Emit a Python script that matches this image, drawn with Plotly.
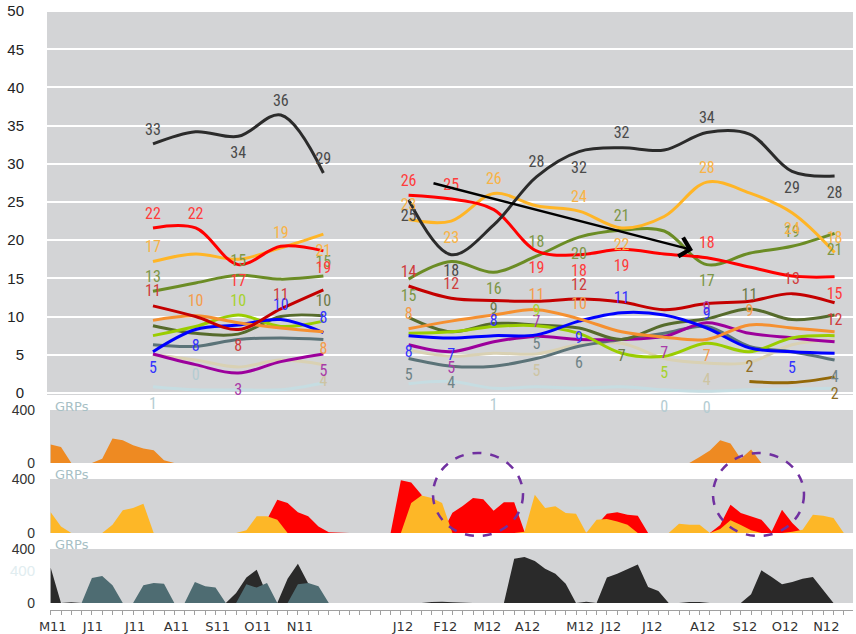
import plotly.graph_objects as go

W, H = 856, 634

# ---------------------------------------------------------------------------
# Weekly timeline (week 0 = first week of May 2011) and monthly tracking waves
# ---------------------------------------------------------------------------
N_WEEKS = 79
FIRST_WAVE_WEEK = 9.93      # week position of the first tracking wave
WEEKS_PER_WAVE = 4.136      # spacing between two tracking waves
waves = list(range(17))     # wave 5 (December) was not fielded

tick_weeks = [0.2, 4.1, 8.2, 12.2, 16.2, 20.1, 24.2, 34.2, 38.3, 42.4, 46.3,
              51.4, 54.4, 58.4, 63.3, 67.4, 71.3, 75.3]
tick_text = ["M11", "J11", "J11", "A11", "S11", "O11", "N11", "J12", "F12",
             "M12", "A12", "M12", "J12", "J12", "A12", "S12", "O12", "N12"]


def wave_series(first_year, second_year):
    return first_year + [None] + second_year


# tracking scores per brand (%)
black_vals = wave_series([32.6, 34.2, 33.6, 36.4, 28.8],
                         [25.3, 18.1, 22.0, 28.3, 31.6, 32.1, 31.8, 34.1, 33.9, 29.0, 28.4])
red_vals = wave_series([21.6, 21.6, 16.8, 19.2, 18.6],
                       [25.9, 25.4, 24.0, 18.6, 18.1, 18.8, 18.2, 17.7, 16.5, 15.3, 15.2])
yellow_vals = wave_series([17.2, 18.2, 17.5, 19.0, 20.8],
                          [22.7, 22.5, 26.1, 24.5, 23.8, 21.6, 23.1, 27.6, 26.2, 23.6, 18.4])
olive_vals = wave_series([13.3, 14.4, 15.4, 14.9, 15.3],
                         [14.9, 17.2, 15.8, 17.9, 20.4, 21.3, 21.2, 16.8, 18.3, 19.2, 20.9])
darkred_vals = wave_series([11.4, 10.0, 8.3, 11.0, 13.5],
                           [14.0, 12.4, 12.1, 12.0, 12.3, 11.9, 10.9, 11.7, 12.0, 13.0, 11.8])
orange_vals = wave_series([9.5, 10.1, 9.2, 8.5, 8.0],
                          [8.4, 9.4, 10.2, 10.9, 9.7, 8.0, 7.3, 7.0, 8.9, 8.5, 8.0])
blue_vals = wave_series([5.4, 8.3, 8.9, 9.6, 7.9],
                        [7.5, 7.2, 7.5, 7.6, 9.4, 10.5, 10.2, 8.5, 5.9, 5.4, 5.2])
lime_vals = wave_series([7.5, 8.7, 10.2, 8.7, 9.4],
                        [7.8, 8.0, 8.7, 8.8, 7.8, 5.2, 4.8, 6.5, 5.4, 7.2, 7.5])
darkolive_vals = wave_series([8.8, 7.8, 7.7, 10.0, 10.1],
                             [9.9, 8.0, 9.1, 8.9, 8.5, 7.0, 8.9, 9.7, 11.0, 9.6, 10.2])
purple_vals = wave_series([5.1, 3.7, 2.6, 4.1, 5.1],
                          [6.3, 5.4, 6.7, 7.4, 7.0, 7.0, 7.4, 9.2, 7.8, 7.2, 6.7])
slate_vals = wave_series([6.3, 6.1, 7.0, 7.2, 7.0],
                         [4.5, 3.5, 3.5, 4.5, 6.1, 7.0, 7.8, 8.7, 6.1, 5.4, 4.3])
beige_vals = wave_series([5.0, 4.3, 3.4, 4.3, 3.7],
                         [5.6, 4.8, 5.2, 5.1, 6.3, 6.5, 4.5, 3.9, 4.0, 6.3, 7.0])
lightblue_vals = wave_series([0.8, 0.4, 0.4, 0.4, 1.3],
                             [1.2, 1.5, 0.6, 0.8, 0.6, 0.8, 0.4, 0.2, 0.4, 0.5, 0.6])
brown_vals = [None] * 14 + [1.5, 1.35, 2.1]

# weekly GRPs per campaign (weeks 0..78)
orange_grp = [139, 121, 0, 0, 0, 33, 185, 172, 134, 109,
              96, 20, 0, 0, 0, 0, 0, 0, 0, 0,
              0, 0, 0, 0, 0, 0, 0, 0, 0, 0,
              0, 0, 0, 0, 0, 0, 0, 0, 0, 0,
              0, 0, 0, 0, 0, 0, 0, 0, 0, 0,
              0, 0, 0, 0, 0, 0, 0, 0, 0, 0,
              0, 0, 0, 45, 95, 172, 147, 33, 101, 0,
              0, 0, 0, 0, 0, 0, 0, 0, 0]
red_grp = [0, 0, 0, 0, 0, 0, 0, 0, 0, 0,
           0, 0, 0, 0, 0, 0, 0, 0, 0, 0,
           0, 100, 247, 222, 153, 124, 49, 5, 0, 0,
           0, 0, 0, 0, 390, 375, 284, 0, 0, 150,
           200, 260, 250, 165, 227, 227, 10, 0, 0, 0,
           0, 0, 0, 60, 143, 153, 136, 128, 0, 0,
           0, 0, 0, 0, 0, 60, 210, 148, 124, 99,
           12, 173, 74, 0, 0, 0, 0, 0, 0]
yellow_grp = [153, 49, 0, 0, 0, 0, 62, 168, 185, 217,
              0, 0, 0, 0, 0, 0, 0, 0, 0, 20,
              124, 124, 99, 0, 0, 0, 0, 0, 0, 0,
              0, 0, 0, 0, 0, 222, 277, 259, 222, 0,
              0, 0, 0, 0, 0, 0, 10, 284, 185, 198,
              148, 143, 0, 99, 104, 86, 62, 0, 0, 0,
              0, 69, 62, 62, 0, 30, 94, 60, 20, 0,
              0, 0, 10, 25, 136, 128, 111, 0, 0]
black_grp = [262, 0, 6, 0, 0, 0, 0, 0, 0, 0,
             0, 0, 0, 0, 0, 0, 0, 0, 74, 188,
             247, 60, 0, 180, 291, 140, 0, 0, 0, 0,
             0, 0, 0, 0, 0, 0, 0, 8, 10, 5,
             0, 0, 0, 0, 0, 328, 341, 311, 254, 217,
             143, 0, 10, 0, 188, 217, 249, 286, 119, 89,
             0, 0, 8, 8, 0, 0, 0, 0, 64, 242,
             193, 138, 156, 180, 193, 94, 0, 0, 0]
slate_grp = [0, 0, 0, 0, 185, 200, 131, 0, 0, 131,
             148, 143, 0, 0, 156, 124, 114, 0, 0, 138,
             114, 148, 0, 0, 138, 148, 124, 0, 0, 0,
             0, 0, 0, 0, 0, 0, 0, 0, 0, 0,
             0, 0, 0, 0, 0, 0, 0, 0, 0, 0,
             0, 0, 0, 0, 0, 0, 0, 0, 0, 0,
             0, 0, 0, 0, 0, 0, 0, 0, 0, 0,
             0, 0, 0, 0, 0, 0, 0, 0, 0]

weeks = list(range(N_WEEKS))
wave_weeks = [FIRST_WAVE_WEEK + WEEKS_PER_WAVE * k for k in waves]

# brand lines: values, line colour, label colour, waves labelled above / below
brands = [
    (lightblue_vals, "#c6dde2", "#b4ccd2", [1], [0, 8, 12, 13]),
    (beige_vals, "#d9d1b3", "#cdc4a3", [], [4, 9, 13]),
    (slate_vals, "#5b7378", "#6f8387", [9], [6, 7, 10, 16]),
    (purple_vals, "#9c009c", "#a83aa8", [9, 13], [2, 4, 7, 12]),
    (darkolive_vals, "#566b2c", "#6c7a48", [4, 8, 14], [11]),
    (lime_vals, "#9acd00", "#a6d22e", [2, 9], [12]),
    (blue_vals, "#0000ff", "#3333ff", [3, 4, 8, 11, 13], [0, 1, 6, 7, 10, 15]),
    (orange_vals, "#f59030", "#f59c4a", [1, 6, 9, 10, 14], [4, 13]),
    (darkred_vals, "#c40000", "#cf3b3b", [0, 3, 6, 7, 10, 15], [2, 16]),
    (olive_vals, "#6b8c25", "#7d9747", [0, 2, 4, 9, 11, 15], [6, 8, 10, 13, 16]),
    (yellow_vals, "#ffb526", "#f8b347", [0, 3, 6, 8, 10, 13, 16], [4, 7, 11, 15]),
    (red_vals, "#ff0000", "#ff3c3c", [0, 1, 6, 7, 13], [2, 4, 9, 10, 11, 16]),
    (black_vals, "#2b2b2b", "#4a4a4a", [0, 3, 4, 9, 11, 13], [2, 6, 7, 10, 15, 16]),
    (brown_vals, "#936808", "#8f6d25", [14], [16]),
]

fig = go.Figure()

for vals, color, _, _, _ in brands:
    fig.add_trace(go.Scatter(
        x=wave_weeks, y=vals, mode="lines",
        line=dict(color=color, width=3, shape="spline", smoothing=1.0),
        connectgaps=False, hoverinfo="skip", showlegend=False,
        xaxis="x", yaxis="y"))

LABEL_FONT = "Liberation Sans Narrow, Roboto Condensed, Liberation Sans, Arial"
for vals, _, lcolor, above, below in brands:
    lx, ly, lt, lp, ls = [], [], [], [], []
    for k in sorted(above + below):
        v = vals[k]
        lx.append(wave_weeks[k])
        ly.append(v)
        lt.append(str(int(v + 0.5)))
        lp.append("top center" if k in above else "bottom center")
        ls.append(7 if k in above else 14)
    # invisible markers keep the value labels clear of the line
    fig.add_trace(go.Scatter(
        x=lx, y=ly, text=lt, textposition=lp, mode="markers+text",
        marker=dict(size=ls, opacity=0),
        textfont=dict(family=LABEL_FONT, size=16, color=lcolor),
        cliponaxis=False, hoverinfo="skip", showlegend=False,
        xaxis="x", yaxis="y"))

# GRP area panels
def area(y, color, xa, ya):
    return go.Scatter(x=weeks, y=y, mode="lines", fill="tozeroy",
                      fillcolor=color, line=dict(color=color, width=0),
                      hoverinfo="skip", showlegend=False, xaxis=xa, yaxis=ya)

fig.add_trace(area(orange_grp, "#ee8a22", "x2", "y2"))
fig.add_trace(area(red_grp, "#ff0000", "x3", "y3"))
fig.add_trace(area(yellow_grp, "#fdb727", "x3", "y3"))
fig.add_trace(area(black_grp, "#2a2a2a", "x4", "y4"))
fig.add_trace(area(slate_grp, "#4e6c72", "x4", "y4"))


def px_x(p):
    return p / W


def px_y(p):
    return 1 - p / H


BG = "#d3d4d6"
AX_FONT = dict(family="Liberation Sans, Arial", size=15, color="#222222")
SMALL_FONT = dict(family="Liberation Sans, Arial", size=14, color="#333333")

top_dom_x = [px_x(47), px_x(853)]
low_dom_x = [px_x(50), px_x(853)]
wk_per_px = 1 / 10.3

layout = dict(
    width=W, height=H,
    autosize=False,
    margin=dict(l=0, r=0, t=0, b=0, pad=0, autoexpand=False),
    paper_bgcolor="white",
    plot_bgcolor=BG,
    showlegend=False,
    xaxis=dict(domain=top_dom_x, range=[(47 - 50.7) * wk_per_px, (853 - 50.7) * wk_per_px],
               showgrid=False, zeroline=False, showticklabels=False, ticks="",
               automargin=False, anchor="y"),
    yaxis=dict(domain=[px_y(395), px_y(10)], range=[-0.275, 50.144],
               tickmode="linear", tick0=0, dtick=5, showgrid=True,
               gridcolor="white", gridwidth=2, zeroline=False, ticks="",
               ticklabelstandoff=22, tickfont=AX_FONT, automargin=False,
               anchor="x"),
)

panel_px = {"2": (410, 463), "3": (479, 533), "4": (549, 603)}
for n, (top, bot) in panel_px.items():
    layout["xaxis" + n] = dict(
        domain=low_dom_x,
        range=[(50 - 50.7) * wk_per_px, (853 - 50.7) * wk_per_px],
        showgrid=False, zeroline=False, showticklabels=False, ticks="",
        automargin=False, anchor="y" + n)
    layout["yaxis" + n] = dict(
        domain=[px_y(bot), px_y(top)], range=[0, 400],
        tickmode="array", tickvals=[0, 400], ticktext=["0", "400"],
        showgrid=False, zeroline=False, ticks="", ticklabelstandoff=14,
        tickfont=SMALL_FONT, automargin=False, showline=False,
        anchor="x" + n)

# bottom time axis with weekly ticks
layout["xaxis4"].update(
    anchor="free", position=px_y(609.5),
    showticklabels=True, tickmode="array", tickvals=tick_weeks, ticktext=tick_text,
    tickfont=dict(family="DejaVu Sans, Verdana", size=13, color="#333333"),
    ticks="", ticklabelstandoff=5,
    showline=True, linecolor="#a0a0a0", linewidth=1,
    minor=dict(tickmode="linear", tick0=0, dtick=1, ticks="outside",
               ticklen=4, tickcolor="#a0a0a0", tickwidth=1),
)

fig.update_layout(**layout)

# GRPs captions above each panel
annotations = []
for y in (406, 474, 544):
    annotations.append(dict(
        x=px_x(53), y=px_y(y), xref="paper", yref="paper", text="GRPs",
        showarrow=False, xanchor="left", yanchor="middle",
        font=dict(family="DejaVu Sans, Verdana", size=13, color="#a7c0c5")))
annotations.append(dict(
    x=px_x(37), y=px_y(570), xref="paper", yref="paper", text="400",
    showarrow=False, xanchor="right", yanchor="middle",
    font=dict(family="Liberation Sans, Arial", size=15, color="#e1edf0")))

# trend arrow over the second year
annotations.append(dict(
    x=(693 - 50.7) * wk_per_px, y=18.7, ax=(432 - 50.7) * wk_per_px, ay=27.5,
    xref="x", yref="y", axref="x", ayref="y", text="",
    showarrow=True, arrowhead=4, arrowsize=1.5, arrowwidth=2.5,
    arrowcolor="#000000"))
fig.update_layout(annotations=annotations)

# dashed highlight circles on the red campaign bursts
for x0, x1 in ((433, 523), (713, 804)):
    fig.add_shape(type="circle", xref="paper", yref="paper",
                  x0=px_x(x0), x1=px_x(x1), y0=px_y(536), y1=px_y(453),
                  line=dict(color="#7030a0", width=2.5, dash="dash"),
                  layer="above")

fig.write_html("out.html")
